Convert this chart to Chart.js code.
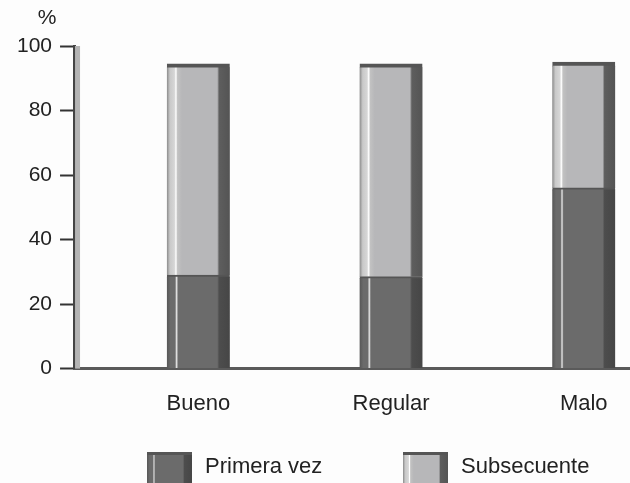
<!DOCTYPE html>
<html>
<head>
<meta charset="utf-8">
<script src="https://cdn.jsdelivr.net/npm/chart.js@4/dist/chart.umd.min.js"></script>
<style>
  body { margin: 0; background: #fdfdfd; }
  #wrap { width: 630px; height: 483px; }
</style>
</head>
<body>
<div id="wrap"><canvas id="chart"></canvas></div>
<script>
// datos
const categorias = ['Bueno', 'Regular', 'Malo'];
const primeraVez = [29, 28.5, 56];
const subsecuente = [65.5, 66, 39];
const yTicks = [0, 20, 40, 60, 80, 100];

const family = 'Liberation Sans, Arial, sans-serif';
const fontY = { family: family, size: 21 };
const fontX = { family: family, size: 22 };
const barW = 63;

// gradiente horizontal para el efecto 3D
function makeGradient(ctx, x0, w, stops) {
  const g = ctx.createLinearGradient(x0, 0, x0 + w, 0);
  stops.forEach(s => g.addColorStop(s[0], s[1]));
  return g;
}

function barGradient(c, stops) {
  const x = c.chart.scales.x;
  if (!x || c.dataIndex === undefined) return stops[2][1];
  const cx = x.getPixelForValue(c.dataIndex);
  if (!isFinite(cx)) return stops[2][1];
  return makeGradient(c.chart.ctx, cx - barW / 2, barW, stops);
}

const darkStops = [
  [0, '#575757'], [0.06, '#6b6b6b'], [0.13, '#6b6b6b'], [0.155, '#e6e6e6'],
  [0.18, '#6b6b6b'], [0.8, '#6b6b6b'], [0.83, '#4d4d4d'], [1, '#464646']
];
const lightStops = [
  [0, '#8a8a8a'], [0.05, '#c9c9c9'], [0.12, '#d6d6d6'], [0.145, '#ffffff'],
  [0.17, '#c2c2c2'], [0.24, '#b7b7b9'], [0.8, '#b7b7b9'], [0.83, '#5e5e5e'], [1, '#545454']
];

// "%" arriba del eje, pared clara del eje vertical y leyenda abajo
const extras = {
  id: 'extras',
  beforeDatasetsDraw(chart) {
    const ctx = chart.ctx, a = chart.chartArea;
    ctx.save();
    ctx.fillStyle = '#b4b4b4';
    ctx.fillRect(a.left + 1, a.top, 5, a.bottom - a.top);
    ctx.restore();
  },
  afterDraw(chart) {
    const ctx = chart.ctx, a = chart.chartArea;
    ctx.save();
    ctx.font = fontY.size + 'px ' + family;
    ctx.fillStyle = '#222';
    ctx.textAlign = 'center';
    ctx.textBaseline = 'middle';
    ctx.fillText('%', a.left - 27, a.top - 28);

    // leyenda
    ctx.font = fontX.size + 'px ' + family;
    const items = [
      { x: 147, stops: darkStops },
      { x: 403, stops: lightStops }
    ];
    chart.data.datasets.forEach((d, i) => {
      const it = items[i];
      const y = 452;
      ctx.fillStyle = makeGradient(ctx, it.x, 45, it.stops);
      ctx.fillRect(it.x, y, 45, 34);
      ctx.fillStyle = '#555';
      ctx.fillRect(it.x, y, 45, 3);
      ctx.fillStyle = '#222';
      ctx.textAlign = 'left';
      ctx.fillText(d.label, it.x + 58, y + 15);
    });
    ctx.restore();
  }
};

new Chart(document.getElementById('chart'), {
  type: 'bar',
  data: {
    datasets: [
      {
        label: 'Primera vez',
        data: primeraVez.map((v, i) => ({ x: i, y: v })),
        backgroundColor: c => barGradient(c, darkStops),
        borderColor: '#555',
        borderWidth: { top: 2, left: 0, right: 0, bottom: 0 },
        borderSkipped: false,
        barThickness: barW
      },
      {
        label: 'Subsecuente',
        data: subsecuente.map((v, i) => ({ x: i, y: v })),
        backgroundColor: c => barGradient(c, lightStops),
        borderColor: '#555',
        borderWidth: { top: 4, left: 0, right: 0, bottom: 0 },
        borderSkipped: false,
        barThickness: barW
      }
    ]
  },
  options: {
    responsive: true,
    maintainAspectRatio: false,
    animation: false,
    layout: { padding: { left: 9, top: 46, right: 0, bottom: 52 } },
    scales: {
      x: {
        type: 'linear',
        stacked: true,
        offset: false,
        min: -0.645,
        max: 2.24,
        afterBuildTicks: s => { s.ticks = categorias.map((c, i) => ({ value: i })); },
        ticks: {
          callback: v => categorias[v],
          font: fontX,
          color: '#222',
          padding: 14
        },
        grid: { display: false },
        border: { color: '#5a5a5a', width: 3 }
      },
      y: {
        stacked: true,
        min: 0,
        max: 100,
        afterBuildTicks: s => { s.ticks = yTicks.map(v => ({ value: v })); },
        ticks: { font: fontY, color: '#222', padding: 8 },
        grid: { drawOnChartArea: false, tickLength: 14, tickColor: '#333', tickWidth: 2 },
        border: { color: '#444', width: 3 }
      }
    },
    plugins: {
      legend: { display: false },
      tooltip: { enabled: false }
    }
  },
  plugins: [extras]
});
</script>
</body>
</html>
